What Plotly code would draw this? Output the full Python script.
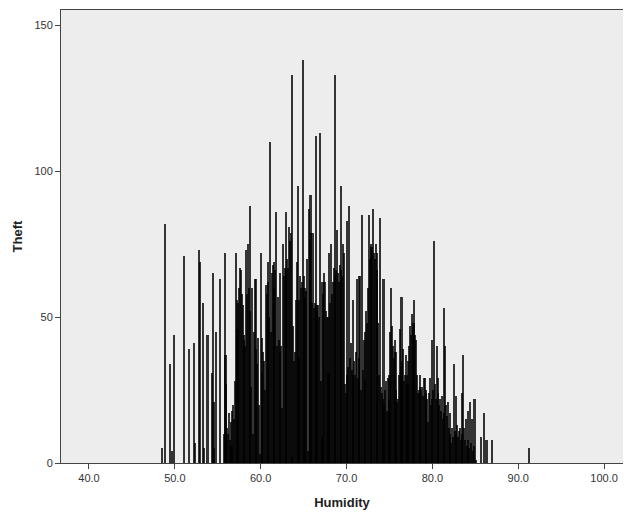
import plotly.graph_objects as go

# Sparse bars (humidity, theft)
sparse_humidity = [48.5, 48.9, 49.4, 49.7, 49.9, 51.1, 51.7, 52.2, 52.3, 52.8, 52.9,
                   53.3, 53.4, 53.8, 54.3, 54.4, 54.5, 54.6, 54.8, 55.3, 55.7, 55.8, 55.9,
                   56.0, 56.1, 56.2, 56.3, 56.4, 56.5, 56.6, 56.7, 56.8, 56.9,
                   85.7, 86.0, 86.3, 86.9, 91.3]
sparse_theft = [5, 82, 34, 4, 44, 71, 39, 41, 7, 73, 69,
                55, 5, 44, 31, 65, 21, 5, 45, 63, 10, 72, 37,
                27, 12, 10, 17, 8, 14, 6, 18, 20, 15,
                9, 17, 8, 8, 5]

# Dense bars, humidity 57.0 .. 85.1 in 0.1 steps
dense_humidity = [
    57.0, 57.1, 57.2, 57.3, 57.4, 57.5, 57.6, 57.7, 57.8, 57.9,
    58.0, 58.1, 58.2, 58.3, 58.4, 58.5, 58.6, 58.7, 58.8, 58.9,
    59.0, 59.1, 59.2, 59.3, 59.4, 59.5, 59.6, 59.7, 59.8, 59.9,
    60.0, 60.1, 60.2, 60.3, 60.4, 60.5, 60.6, 60.7, 60.8, 60.9,
    61.0, 61.1, 61.2, 61.3, 61.4, 61.5, 61.6, 61.7, 61.8, 61.9,
    62.0, 62.1, 62.2, 62.3, 62.4, 62.5, 62.6, 62.7, 62.8, 62.9,
    63.0, 63.1, 63.2, 63.3, 63.4, 63.5, 63.6, 63.7, 63.8, 63.9,
    64.0, 64.1, 64.2, 64.3, 64.4, 64.5, 64.6, 64.7, 64.8, 64.9,
    65.0, 65.1, 65.2, 65.3, 65.4, 65.5, 65.6, 65.7, 65.8, 65.9,
    66.0, 66.1, 66.2, 66.3, 66.4, 66.5, 66.6, 66.7, 66.8, 66.9,
    67.0, 67.1, 67.2, 67.3, 67.4, 67.5, 67.6, 67.7, 67.8, 67.9,
    68.0, 68.1, 68.2, 68.3, 68.4, 68.5, 68.6, 68.7, 68.8, 68.9,
    69.0, 69.1, 69.2, 69.3, 69.4, 69.5, 69.6, 69.7, 69.8, 69.9,
    70.0, 70.1, 70.2, 70.3, 70.4, 70.5, 70.6, 70.7, 70.8, 70.9,
    71.0, 71.1, 71.2, 71.3, 71.4, 71.5, 71.6, 71.7, 71.8, 71.9,
    72.0, 72.1, 72.2, 72.3, 72.4, 72.5, 72.6, 72.7, 72.8, 72.9,
    73.0, 73.1, 73.2, 73.3, 73.4, 73.5, 73.6, 73.7, 73.8, 73.9,
    74.0, 74.1, 74.2, 74.3, 74.4, 74.5, 74.6, 74.7, 74.8, 74.9,
    75.0, 75.1, 75.2, 75.3, 75.4, 75.5, 75.6, 75.7, 75.8, 75.9,
    76.0, 76.1, 76.2, 76.3, 76.4, 76.5, 76.6, 76.7, 76.8, 76.9,
    77.0, 77.1, 77.2, 77.3, 77.4, 77.5, 77.6, 77.7, 77.8, 77.9,
    78.0, 78.1, 78.2, 78.3, 78.4, 78.5, 78.6, 78.7, 78.8, 78.9,
    79.0, 79.1, 79.2, 79.3, 79.4, 79.5, 79.6, 79.7, 79.8, 79.9,
    80.0, 80.1, 80.2, 80.3, 80.4, 80.5, 80.6, 80.7, 80.8, 80.9,
    81.0, 81.1, 81.2, 81.3, 81.4, 81.5, 81.6, 81.7, 81.8, 81.9,
    82.0, 82.1, 82.2, 82.3, 82.4, 82.5, 82.6, 82.7, 82.8, 82.9,
    83.0, 83.1, 83.2, 83.3, 83.4, 83.5, 83.6, 83.7, 83.8, 83.9,
    84.0, 84.1, 84.2, 84.3, 84.4, 84.5, 84.6, 84.7, 84.8, 84.9,
    85.0, 85.1,
]
dense_theft = [
    28, 72, 56, 46, 55, 60, 67, 66, 58, 54,
    42, 44, 40, 73, 58, 75, 60, 52, 88, 26,
    60, 10, 45, 63, 39, 63, 34, 43, 20, 3,
    72, 31, 43, 38, 35, 25, 61, 58, 62, 69,
    50, 110, 45, 65, 68, 60, 69, 66, 86, 40,
    57, 42, 38, 65, 40, 19, 75, 64, 67, 66,
    86, 70, 67, 81, 76, 79, 133, 2, 47, 35,
    38, 56, 69, 95, 56, 36, 64, 60, 62, 138,
    64, 60, 57, 59, 70, 4, 87, 76, 92, 79,
    55, 79, 53, 55, 112, 54, 52, 54, 50, 113,
    28, 9, 62, 58, 65, 62, 52, 50, 50, 31,
    72, 55, 75, 58, 62, 67, 64, 133, 66, 80,
    65, 62, 68, 95, 66, 64, 75, 72, 27, 24,
    30, 83, 33, 88, 36, 41, 32, 56, 30, 35,
    30, 38, 63, 29, 64, 36, 64, 25, 85, 32,
    42, 28, 45, 52, 48, 60, 85, 70, 74, 75,
    74, 87, 72, 70, 75, 66, 72, 48, 30, 84,
    26, 24, 22, 63, 20, 25, 28, 18, 29, 22,
    30, 45, 60, 47, 40, 36, 42, 38, 25, 21,
    22, 30, 46, 33, 57, 35, 39, 28, 30, 37,
    30, 27, 35, 40, 47, 44, 51, 46, 48, 56,
    44, 42, 30, 24, 25, 26, 30, 25, 26, 23,
    29, 29, 24, 25, 22, 14, 24, 29, 20, 22,
    42, 25, 76, 27, 22, 40, 24, 29, 20, 22,
    18, 23, 15, 53, 17, 40, 20, 16, 21, 12,
    17, 10, 7, 12, 9, 34, 11, 23, 10, 13,
    9, 11, 12, 8, 24, 10, 37, 12, 8, 15,
    6, 18, 8, 5, 21, 7, 15, 4, 6, 22,
    0, 1,
]

x_tick_vals = [40, 50, 60, 70, 80, 90, 100]
x_tick_text = ["40.0", "50.0", "60.0", "70.0", "80.0", "90.0", "100.0"]
y_tick_vals = [0, 50, 100, 150]

humidity = sparse_humidity + dense_humidity
theft = sparse_theft + dense_theft

fig = go.Figure()
fig.add_trace(go.Bar(
    x=humidity, y=theft, width=0.24,
    marker=dict(color="#000000", opacity=0.78, line=dict(width=0)),
    showlegend=False,
))

font_family = "Liberation Sans, Arial, sans-serif"
# the page body adds an 8px offset; figure sized to sit inside the 631x516 window
fig.update_layout(
    width=623, height=508,
    margin=dict(l=53, r=8, t=2, b=52.5),
    paper_bgcolor="white",
    plot_bgcolor="#ededed",
    bargap=0,
    font=dict(family=font_family, size=11, color="#333"),
    xaxis=dict(
        range=[36.74, 102.2],
        automargin=False,
        tickvals=x_tick_vals, ticktext=x_tick_text,
        ticks="outside", ticklen=5, tickcolor="#444",
        showgrid=False, zeroline=False,
        showline=True, linecolor="#444", linewidth=1, mirror=True,
        title=dict(text="<b>Humidity</b>", font=dict(size=13, color="#222"), standoff=14),
        tickfont=dict(size=11, color="#333"),
    ),
    yaxis=dict(
        range=[0, 155.3],
        automargin=False,
        tickvals=y_tick_vals,
        ticks="outside", ticklen=5, tickcolor="#444",
        showgrid=False, zeroline=False,
        showline=True, linecolor="#444", linewidth=1, mirror=True,
        title=dict(text="<b>Theft</b>", font=dict(size=13, color="#222"), standoff=8),
        tickfont=dict(size=11, color="#333"),
    ),
)

fig.write_html("out.html")
